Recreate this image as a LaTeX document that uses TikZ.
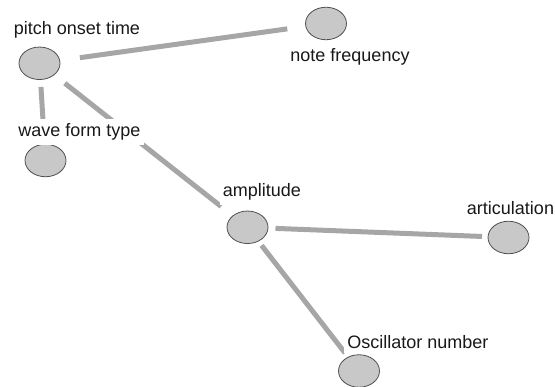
\documentclass[tikz,border=0pt]{standalone}
\usepackage{fontspec}
\setmainfont{Liberation Sans}
\usetikzlibrary{shapes.geometric,backgrounds}
\definecolor{linkgray}{RGB}{166,166,166}
\definecolor{dotfill}{RGB}{200,200,200}
\definecolor{dotedge}{RGB}{80,80,80}
\definecolor{labeltext}{RGB}{25,25,25}
\tikzset{
  dot/.style={ellipse, draw=dotedge, line width=0.8pt, fill=dotfill,
    minimum width=41pt, minimum height=32.5pt, inner sep=0pt},
  tag/.style={anchor=base, text=labeltext, fill=white, inner xsep=3pt, inner ysep=4.5pt,
    font=\fontsize{18}{21}\selectfont},
  link/.style={draw=linkgray, line width=5pt, line cap=butt},
}
\begin{document}
\begin{tikzpicture}[x=1pt, y=-1pt]
\useasboundingbox (0,0) rectangle (555,387);

% concept nodes
\node[dot] (pitch) at (39.5,63.3) {};
\node[dot] (note)  at (326,23.5) {};
\node[dot] (wave)  at (45.5,160.5) {};
\node[dot] (amp)   at (247.5,227.3) {};
\node[dot] (artic) at (508.5,237.5) {};
\node[dot] (osc)   at (359,371) {};

% links, kept behind nodes and labels
\begin{scope}[on background layer]
  \draw[link, shorten <=40.8pt, shorten >=39.1pt] (pitch.center) -- (note.center);
  \draw[link, shorten <=23.7pt, shorten >=20pt]   (pitch.center) -- (wave.center);
  \draw[link, shorten <=32.2pt, shorten >=33.6pt] (pitch.center) -- (amp.center);
  \draw[link, shorten <=28pt,   shorten >=26.5pt] (amp.center) -- (artic.center);
  \draw[link, shorten <=22.9pt, shorten >=22.8pt] (amp.center) -- (osc.center);
\end{scope}

% labels
\node[tag] (pitchlbl) at (77,35)      {pitch onset time};
\node[tag] (notelbl)  at (350,62)     {note frequency};
\node[tag] (wavelbl)  at (79.5,136.5) {wave form type};
\node[tag] (amplbl)   at (262,197)    {amplitude};
\node[tag] (articlbl) at (510.5,215)  {articulation};
\node[tag] (osclbl)   at (418,348.3)  {Oscillator number};
\end{tikzpicture}
\end{document}
